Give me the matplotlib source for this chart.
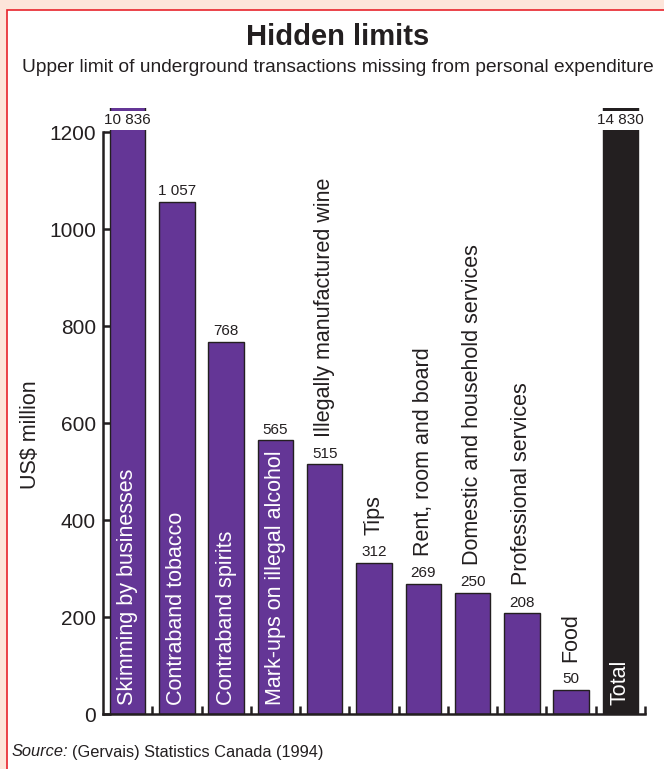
import matplotlib.pyplot as plt
from matplotlib.patches import Rectangle

plt.rcParams['font.family'] = ['Liberation Sans', 'DejaVu Sans']

categories = [
    "Skimming by businesses",
    "Contraband tobacco",
    "Contraband spirits",
    "Mark-ups on illegal alcohol",
    "Illegally manufactured wine",
    "Tips",
    "Rent, room and board",
    "Domestic and household services",
    "Professional services",
    "Food",
    "Total",
]
values = [10836, 1057, 768, 565, 515, 312, 269, 250, 208, 50, 14830]
label_inside = [True, True, True, True, False, False, False, False, False, False, True]
yticks = [0, 200, 400, 600, 800, 1000, 1200]

PURPLE = "#643696"
DARK = "#231f20"
AXIS_TOP = 1250  # bars taller than this are cut and labelled on a white patch

fig = plt.figure(figsize=(6.64, 7.69), dpi=100)
fig.patch.set_facecolor("#fde5da")

# white panel with red frame
panel = Rectangle((7 / 664, -0.1), 1.2, (769 - 10) / 769 + 0.1, transform=fig.transFigure,
                  facecolor="white", edgecolor="#e8232b", linewidth=1.2, zorder=-1)
fig.patches.append(panel)

fig.text(338 / 664, 1 - 37 / 769, "Hidden limits", ha="center", va="center",
         fontsize=21, fontweight="bold", color=DARK)
fig.text(338 / 664, 1 - 68 / 769,
         "Upper limit of underground transactions missing from personal expenditure",
         ha="center", va="center", fontsize=13.8, color=DARK)

ax = fig.add_axes([103 / 664, 55 / 769, (645 - 103) / 664, (714 - 108) / 769])
ax.set_zorder(1)
ax.set_facecolor("none")

x = list(range(len(categories)))
colors = [PURPLE] * (len(categories) - 1) + [DARK]
ax.bar(x, values, width=0.72, color=colors, edgecolor=DARK, linewidth=1.0, zorder=2)

ax.set_xlim(-0.5, len(categories) - 0.5)
ax.set_ylim(0, AXIS_TOP)

for xi, v, cat, inside in zip(x, values, categories, label_inside):
    txt = f"{v:,}".replace(",", " ")
    if v > AXIS_TOP:
        ax.text(xi, 1225, txt, ha="center", va="center", fontsize=11, color=DARK,
                zorder=4, bbox=dict(facecolor="white", edgecolor="none", pad=1.8))
    else:
        ax.annotate(txt, (xi, v), xytext=(0, 2.5), textcoords="offset points",
                    ha="center", va="bottom", fontsize=11, color=DARK, zorder=4)
    if inside:
        ax.text(xi, 18, cat, rotation=90, ha="center", va="bottom",
                fontsize=15.5, color="white", zorder=4)
    else:
        ax.annotate(cat, (xi, v), xytext=(0, 20), textcoords="offset points",
                    rotation=90, ha="center", va="bottom", fontsize=15.5,
                    color=DARK, zorder=4)

for side in ("top", "right"):
    ax.spines[side].set_visible(False)
ax.spines["left"].set_bounds(0, 1200)
ax.spines["left"].set_linewidth(1.8)
ax.spines["bottom"].set_linewidth(1.8)
ax.spines["left"].set_color(DARK)
ax.spines["bottom"].set_color(DARK)

ax.set_yticks(yticks)
ax.set_yticklabels([str(t) for t in yticks], fontsize=15, color=DARK)
ax.tick_params(axis="y", direction="in", length=6, width=1.8, color=DARK, pad=5)
ax.set_xticks([i + 0.5 for i in range(len(categories))])
ax.set_xticklabels([])
ax.tick_params(axis="x", direction="in", length=6, width=1.8, color=DARK)

fig.text(30 / 664, 1 - 435 / 769, "US$ million", rotation=90, ha="center",
         va="center", fontsize=15.5, color=DARK)

fig.text(12 / 664, 1 - 752 / 769, "Source:", ha="left", va="center",
         fontsize=11.8, style="italic", color=DARK)
fig.text(72 / 664, 1 - 752 / 769, "(Gervais) Statistics Canada (1994)",
         ha="left", va="center", fontsize=11.8, color=DARK)

fig.savefig("out.png", dpi=100, facecolor=fig.get_facecolor())
